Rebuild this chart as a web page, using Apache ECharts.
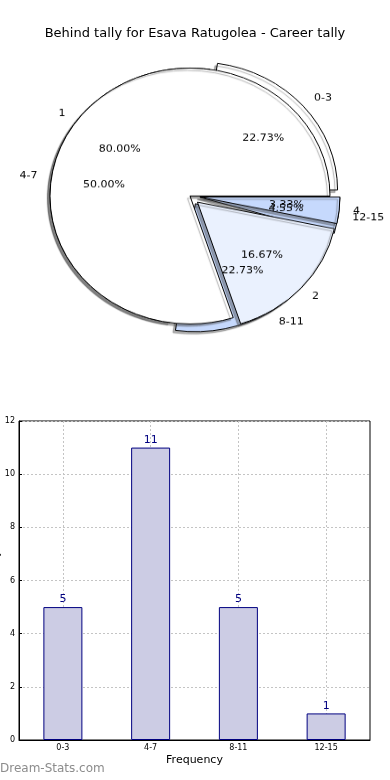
<!DOCTYPE html>
<html><head><meta charset="utf-8">
<script src="https://cdn.jsdelivr.net/npm/echarts@6/dist/echarts.min.js"></script>
<style>
html,body{margin:0;padding:0;background:#fff;width:390px;height:780px;overflow:hidden;}
#bar{position:absolute;left:0;top:0;width:390px;height:780px;}
#pie{position:absolute;left:0;top:0;width:390px;height:400px;transform:scaleY(0.914);transform-origin:0 0;}
</style></head><body>
<div id="bar"></div><div id="pie"></div>
<script>
// ---- data ----
const titleText = 'Behind tally for Esava Ratugolea - Career tally';
const categories = ['0-3', '4-7', '8-11', '12-15'];
const frequencyValues = [5, 11, 5, 1];
const tallyLabels = ['1', '2', '4'];
const tallyValues = [24, 5, 1];
const yMin = 0, yMax = 12, yInterval = 2;
const xAxisName = 'Frequency';
const yAxisName = 'Behind Tally';
const watermark = 'Dream-Stats.com';

// ---- styles ----
const FONT = 'DejaVu Sans';
const pieAColors = ['#ffffff', '#ffffff', '#c6d9fd', '#c6d9fd'];
const pieBColors = ['#ffffff', '#eaf1fe', '#c6d9fd'];
const pieAExploded = [true, false, true, true];
const pieBExploded = [false, true, true];

const sumA = frequencyValues.reduce((a, b) => a + b, 0);
const sumB = tallyValues.reduce((a, b) => a + b, 0);

const CX = 190, CY = 196 / 0.914, R = 140;

const shadow = {shadowColor: 'rgba(60,60,60,0.4)', shadowBlur: 1, shadowOffsetX: -2.5, shadowOffsetY: 2.5};

function mainPie(names, vals, colors, exploded) {
  return {
    type: 'pie', center: [CX, CY], radius: [0, R], startAngle: 0, clockwise: false,
    selectedMode: 'multiple', selectedOffset: 10, avoidLabelOverlap: false, silent: true,
    animation: false, minShowLabelAngle: 0,
    labelLayout: {hideOverlap: false},
    itemStyle: Object.assign({borderColor: '#000', borderWidth: 1}, shadow),
    label: {show: true, position: 'outside', alignTo: 'none', distanceToLabelLine: 0,
            color: '#000', fontSize: 11, fontFamily: FONT, formatter: '{b}'},
    labelLine: {show: false, length: 14, length2: 0},
    emphasis: {disabled: true},
    data: names.map((n, i) => ({name: n, value: vals[i], selected: exploded[i], itemStyle: {color: colors[i]}}))
  };
}
function pctPie(names, vals, sum, exploded) {
  return {
    type: 'pie', center: [CX, CY], radius: [R * 0.2, R], startAngle: 0, clockwise: false,
    selectedMode: 'multiple', selectedOffset: 10, avoidLabelOverlap: false, silent: true,
    animation: false, z: 5, minShowLabelAngle: 0,
    labelLayout: {hideOverlap: false},
    itemStyle: {color: 'rgba(0,0,0,0)', borderWidth: 0},
    label: {show: true, position: 'inside', color: '#000', fontSize: 11, fontFamily: FONT,
            overflow: 'none',
            formatter: p => (p.value / sum * 100).toFixed(2) + '%'},
    labelLine: {show: false},
    emphasis: {disabled: true},
    data: names.map((n, i) => ({name: n, value: vals[i], selected: exploded[i]}))
  };
}

const pie = echarts.init(document.getElementById('pie'), null, {renderer: 'canvas'});
pie.setOption({
  animation: false,
  series: [
    mainPie(categories, frequencyValues, pieAColors, pieAExploded),
    mainPie(tallyLabels, tallyValues, pieBColors, pieBExploded),
    pctPie(categories, frequencyValues, sumA, pieAExploded),
    pctPie(tallyLabels, tallyValues, sumB, pieBExploded)
  ]
});

const bar = echarts.init(document.getElementById('bar'), null, {renderer: 'canvas'});
bar.setOption({
  animation: false,
  title: {text: titleText, left: 'center', top: 22,
          textStyle: {fontFamily: FONT, fontSize: 13, fontWeight: 'normal', color: '#000'}},
  grid: {left: 19, right: 20, top: 421, bottom: 40, containLabel: false, outerBoundsMode: 'none',
         show: true, borderColor: '#000', borderWidth: 1, backgroundColor: 'transparent'},
  xAxis: {
    type: 'category', data: categories,
    name: xAxisName, nameLocation: 'middle', nameGap: 15,
    nameTextStyle: {fontFamily: FONT, fontSize: 11, color: '#000'},
    axisLine: {lineStyle: {color: '#000', width: 1}},
    axisTick: {show: false},
    axisLabel: {fontFamily: FONT, fontSize: 8, color: '#000', margin: 4},
    splitLine: {show: true, alignWithLabel: true, lineStyle: {color: '#c4c4c4', type: [2, 2], width: 1}}
  },
  yAxis: {
    type: 'value', min: yMin, max: yMax, interval: yInterval,
    name: yAxisName, nameLocation: 'middle', nameGap: 18, nameMoveOverlap: false,
    nameTextStyle: {fontFamily: FONT, fontSize: 10, color: '#000'},
    axisLine: {show: true, lineStyle: {color: '#000', width: 1}},
    axisTick: {show: true, inside: true, length: 3, lineStyle: {color: '#000'}},
    axisLabel: {fontFamily: FONT, fontSize: 8, color: '#000', margin: 4},
    splitLine: {show: true, lineStyle: {color: '#c4c4c4', type: [2, 2], width: 1}}
  },
  series: [{
    type: 'bar', data: frequencyValues, barWidth: 39,
    itemStyle: {color: '#ccccE4', borderColor: '#000080', borderWidth: 1},
    label: {show: true, position: 'top', distance: 2, color: '#000080', fontFamily: FONT, fontSize: 11},
    emphasis: {disabled: true}, silent: true
  }],
  graphic: [{
    type: 'text', left: 0, top: 763,
    style: {text: watermark, fill: '#8c8c8c', font: 'normal 12px "DejaVu Sans"'}
  }]
});
</script></body></html>
